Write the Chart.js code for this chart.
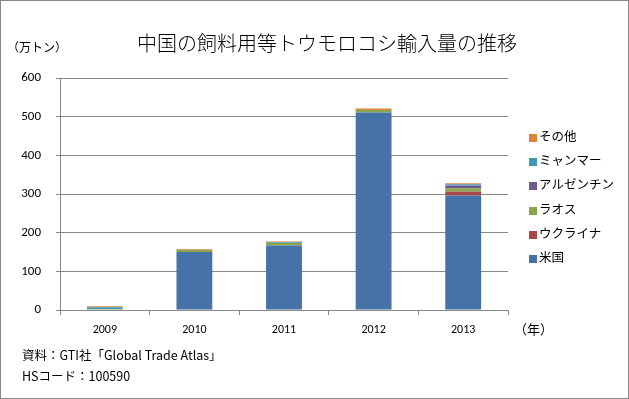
<!DOCTYPE html>
<html>
<head>
<meta charset="utf-8">
<script src="https://cdn.jsdelivr.net/npm/chart.js@4"></script>
<style>
  body { margin: 0; background: #fff; font-family: "Noto Sans CJK JP", sans-serif; }
  #wrap { position: relative; width: 629px; height: 399px; }
  #frame { position: absolute; left: 0; top: 0; width: 627px; height: 397px; border: 1px solid #888; }
  canvas { position: absolute; left: 0; top: 0; }
  .txt { position: absolute; color: #000; white-space: nowrap; }
  #legend { position: absolute; left: 529px; top: 126px; font-size: 12.5px; }
  #legend div { height: 24.2px; line-height: 20px; }
  #legend span.box { display: inline-block; width: 8px; height: 8px; margin-right: 2px; vertical-align: -1px; }
</style>
</head>
<body>
<div id="wrap">
  <canvas id="chart" width="629" height="399"></canvas>
  <div id="frame"></div>
  <div class="txt" style="left:0; width:654px; text-align:center; top:28px; font-size:20px; font-weight:300;">中国の飼料用等トウモロコシ輸入量の推移</div>
  <div class="txt" style="left:7px; top:38px; font-size:12px;">（万トン）</div>
  <div class="txt" style="left:514px; top:319px; font-size:13px;">（年）</div>
  <div class="txt" style="left:22px; top:345px; font-size:12.5px;">資料：GTI社「Global Trade Atlas」</div>
  <div class="txt" style="left:22px; top:366px; font-size:12.5px;">HSコード：100590</div>
  <div id="legend"></div>
</div>
<script>
const years = ['2009', '2010', '2011', '2012', '2013'];
const seriesNames = ['米国', 'ウクライナ', 'ラオス', 'アルゼンチン', 'ミャンマー', 'その他'];
const usa = [0, 150, 167, 511, 296];
const ukraine = [0, 0, 0, 0, 10];
const laos = [2, 5, 6, 6, 9];
const argentina = [0, 0, 0, 0, 7];
const myanmar = [5, 0, 2, 0, 3];
const others = [3, 2, 2, 4, 3];
const colors = ['#4572A7', '#AA4643', '#89A54E', '#71588F', '#4198AF', '#DB843D'];

const seriesValues = [usa, ukraine, laos, argentina, myanmar, others];

const datasets = seriesNames.map((name, i) => ({
    label: name,
    data: seriesValues[i],
    backgroundColor: colors[i],
    borderWidth: 0,
    categoryPercentage: 0.4,
    barPercentage: 1
}));

// legend, top to bottom is reversed order
const legendEl = document.getElementById('legend');
seriesNames.slice().reverse().forEach((name, k) => {
    const i = seriesNames.length - 1 - k;
    const row = document.createElement('div');
    row.innerHTML = '<span class="box" style="background:' + colors[i] + '"></span>' + name;
    legendEl.appendChild(row);
});

const ctx = document.getElementById('chart').getContext('2d');
new Chart(ctx, {
    type: 'bar',
    data: { labels: years, datasets: datasets },
    options: {
        responsive: false,
        animation: false,
        layout: { padding: { left: 0, right: 121, top: 78, bottom: 0 } },
        plugins: { legend: { display: false }, tooltip: { enabled: false } },
        scales: {
            x: {
                stacked: true,
                afterFit: (scale) => { scale.height = 89; },
                grid: { offset: true, drawOnChartArea: false, color: '#888', tickLength: 5 },
                border: { color: '#888', width: 1 },
                ticks: { color: '#000', padding: 8, font: { family: 'Calibri, "Liberation Sans", sans-serif', size: 12 } }
            },
            y: {
                stacked: true,
                min: 0,
                max: 600,
                afterFit: (scale) => { scale.width = 60; },
                ticks: { stepSize: 100, color: '#000', padding: 15, font: { family: 'Calibri, "Liberation Sans", sans-serif', size: 13 } },
                grid: { color: '#888', lineWidth: 1, tickLength: 4 },
                border: { color: '#888', width: 1 }
            }
        }
    }
});
</script>
</body>
</html>
